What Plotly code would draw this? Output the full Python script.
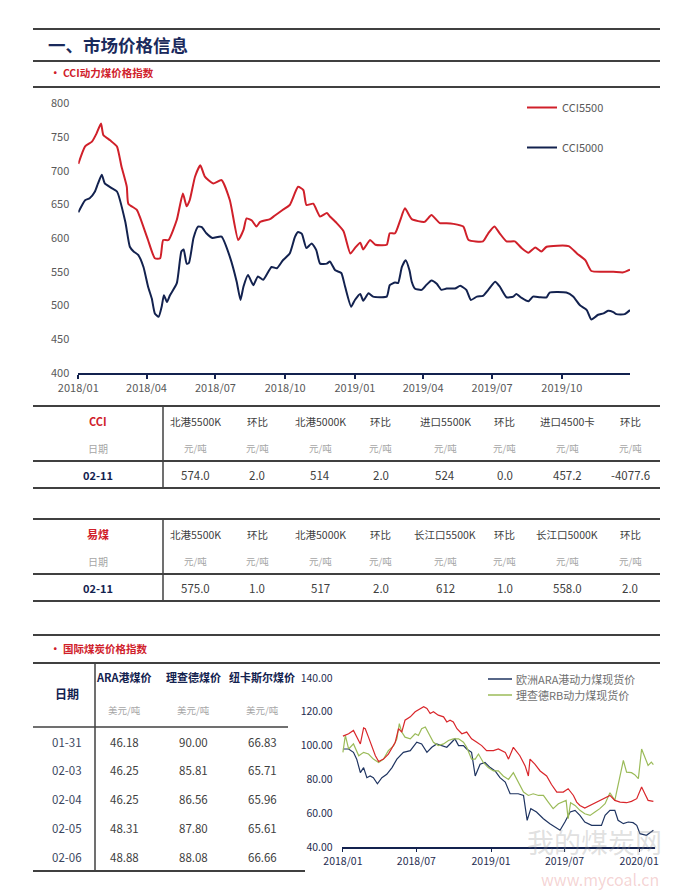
import plotly.graph_objects as go
import pandas as pd

W, H = 693, 894
OFF = 8  # page body margin in the browser
FONT = "Noto Sans CJK SC"

# ---------------- data: CCI index chart ----------------
cci5500_dates = ["2018-01-01","2018-01-10","2018-01-19","2018-01-25","2018-01-31","2018-02-03","2018-02-12","2018-02-21",
    "2018-02-27","2018-03-06","2018-03-08","2018-03-19","2018-03-23","2018-04-03","2018-04-12","2018-04-19","2018-04-23",
    "2018-04-30","2018-05-11","2018-05-19","2018-05-24","2018-05-28","2018-06-04","2018-06-11","2018-06-17","2018-06-28",
    "2018-07-09","2018-07-20","2018-07-31","2018-08-07","2018-08-11","2018-08-18","2018-08-24","2018-08-29","2018-09-11",
    "2018-09-17","2018-09-28","2018-10-07","2018-10-18","2018-10-25","2018-10-29","2018-11-07","2018-11-16","2018-11-25",
    "2018-11-29","2018-12-08","2018-12-17","2018-12-26","2019-01-01","2019-01-08","2019-01-12","2019-01-21","2019-01-28",
    "2019-02-12","2019-02-16","2019-02-23","2019-03-02","2019-03-08","2019-03-17","2019-04-03","2019-04-12","2019-04-23",
    "2019-05-02","2019-05-11","2019-05-24","2019-05-31","2019-06-19","2019-06-26","2019-07-04","2019-07-11","2019-07-20",
    "2019-07-31","2019-08-09","2019-08-18","2019-08-27","2019-09-04","2019-09-11","2019-10-10","2019-10-21","2019-11-01",
    "2019-11-09","2019-11-25","2019-12-08","2019-12-21","2019-12-30"]
cci5500 = [710,736,743,755,770,753,745,736,706,676,651,642,632,597,570,570,597,597,627,666,647,656,691,708,691,681,
    686,656,597,612,629,626,617,624,628,633,642,649,676,671,649,651,632,637,632,622,610,577,585,593,583,597,590,
    590,607,607,627,644,628,624,634,622,622,621,617,597,595,607,617,607,595,595,585,578,586,580,587,588,577,567,
    551,550,550,549,553]

cci5000_dates = ["2018-01-01","2018-01-10","2018-01-16","2018-01-23","2018-01-27","2018-02-01","2018-02-05","2018-02-14",
    "2018-02-21","2018-03-04","2018-03-10","2018-03-15","2018-03-21","2018-03-28","2018-04-03","2018-04-08","2018-04-12",
    "2018-04-17","2018-04-21","2018-04-24","2018-04-28","2018-05-02","2018-05-11","2018-05-17","2018-05-20","2018-05-24",
    "2018-05-27","2018-06-02","2018-06-08","2018-06-13","2018-06-19","2018-06-27","2018-07-09","2018-07-20","2018-07-29",
    "2018-08-03","2018-08-07","2018-08-13","2018-08-20","2018-08-26","2018-09-02","2018-09-13","2018-09-20","2018-09-28",
    "2018-10-07","2018-10-14","2018-10-18","2018-10-23","2018-10-29","2018-11-05","2018-11-11","2018-11-16","2018-11-25",
    "2018-11-29","2018-12-06","2018-12-14","2018-12-19","2018-12-27","2019-01-01","2019-01-08","2019-01-12","2019-01-19",
    "2019-01-25","2019-02-12","2019-02-16","2019-02-23","2019-02-27","2019-03-04","2019-03-09","2019-03-14","2019-03-17",
    "2019-03-21","2019-03-30","2019-04-05","2019-04-12","2019-04-19","2019-04-25","2019-05-02","2019-05-13","2019-05-20",
    "2019-05-28","2019-06-03","2019-06-11","2019-06-19","2019-06-26","2019-07-05","2019-07-11","2019-07-20","2019-07-29",
    "2019-08-02","2019-08-09","2019-08-18","2019-08-24","2019-09-02","2019-09-11","2019-09-15","2019-10-07","2019-10-16",
    "2019-10-25","2019-11-03","2019-11-09","2019-11-18","2019-11-25","2019-12-01","2019-12-08","2019-12-12","2019-12-23",
    "2019-12-30"]
cci5000 = [638,656,659,669,681,694,681,674,669,624,587,580,575,557,528,510,488,483,498,515,505,515,533,580,583,562,
    563,600,617,616,607,600,602,572,535,508,528,545,530,543,538,557,555,567,577,602,609,606,585,592,582,562,562,
    565,552,548,528,498,508,517,507,518,513,513,530,534,533,557,567,552,535,525,523,530,537,532,523,525,525,529,
    523,508,513,514,523,535,528,512,513,517,511,506,513,512,512,519,519,513,500,493,479,486,488,492,490,487,487,
    493]

# ---------------- data: tables ----------------
cci_headers = ["北港5500K", "环比", "北港5000K", "环比", "进口5500K", "环比", "进口4500卡", "环比"]
cci_units = ["元/吨"] * 8
cci_date = "02-11"
cci_values = ["574.0", "2.0", "514", "2.0", "524", "0.0", "457.2", "-4077.6"]

ym_headers = ["北港5500K", "环比", "北港5000K", "环比", "长江口5500K", "环比", "长江口5000K", "环比"]
ym_units = ["元/吨"] * 8
ym_date = "02-11"
ym_values = ["575.0", "1.0", "517", "2.0", "612", "1.0", "558.0", "2.0"]

intl_headers = ["ARA港煤价", "理查德煤价", "纽卡斯尔煤价"]
intl_units = ["美元/吨"] * 3
intl_dates = ["01-31", "02-03", "02-04", "02-05", "02-06"]
ara_price = [46.18, 46.25, 46.25, 48.31, 48.88]
richards_price = [90.00, 85.81, 86.56, 87.80, 88.08]
newcastle_price = [66.83, 65.71, 65.96, 65.61, 66.66]

# ---------------- data: international chart (days since 2018-01-01) ----------------
intl_start = pd.Timestamp("2018-01-01")
ara_days = [0,14,26,34,43,51,59,67,75,85,96,108,121,133,149,166,182,194,207,219,231,244,256,268,276,285,297,305,317,
    326,338,350,363,375,387,400,412,432,445,454,463,477,494,510,527,535,547,560,572,584,596,613,637,646,658,670,678,
    691,703,715,724,732,748,765]
ara_spot = [98,98,96,92,84,87,81,82,81,77.4,81,83,87,92,96,97,102,101,96,99,101,100,99,102,104,100,100,98,96,82,89,90,
    87,85,81,78.4,71.5,71.5,70.5,55.8,62.7,60.7,56.7,53.8,50.8,49.9,54.8,60.7,61.7,58.7,54.8,52.8,52.8,58.7,61.7,61.7,
    55.8,53.8,54.8,54.4,52.8,47.9,46.9,49.9]
rb_days = [0,6,14,26,39,51,63,75,88,100,112,125,133,139,145,153,166,178,186,194,203,211,223,235,248,260,272,285,297,305,
    317,326,334,346,358,371,383,395,408,420,432,445,457,469,482,494,506,518,531,543,550,555,561,572,584,596,609,621,633,
    646,658,670,678,691,699,711,719,728,736,744,752,760,765]
rb_spot = [96,106,98,101,94,96,95,92,90,92,97,100,104,113,108,105,104,107,106,110,111,107,102,100,101,103,104,104,102,99,
    92,92,95,90,87,85,85,82,80,84,78.4,72.5,70.5,71.5,70.5,70.5,66.6,62.7,65.6,66.6,67.6,56.7,66.2,64.6,61.7,59.7,58.7,
    60.7,62.7,65.6,72.1,67.6,76.5,91.2,84.3,84,82.8,80.4,98,93.2,88.3,90.2,88.7]
nc_days = [0,14,26,34,43,51,55,63,71,80,88,100,112,121,129,137,145,153,166,178,186,199,207,215,223,235,248,256,264,272,
    281,293,305,317,330,342,354,371,383,400,408,420,436,449,457,461,473,486,502,514,527,543,555,568,576,584,596,609,625,
    642,658,670,683,699,711,724,736,744,752,765]
nc_spot = [105.6,107,109,105,101,110.5,110,105,100,94,90.6,92,95,99,102,110,108,115,117,120,121,123,122,119,120,118,117,
    114,115,114,110,107,108,104,102,100,97,97,98,96,92,99,94,88,82,92,89,85,82,77,72.5,72.5,74.5,70.5,66.6,64.6,63,64.6,
    66.6,68.6,70.5,67.6,66.6,66.2,67,68.6,75.5,71.5,67.6,67]

RED = "#d0202a"
NAVY = "#13224f"
ARA_C = "#1f3461"
GREEN = "#9bbb59"
NC_C = "#d9262b"
GREY = "#595959"
LIGHT = "#a6a6a6"
DARK = "#404040"


def px(x):
    return (x - OFF) / W


def py(y):
    return 1 - (y - OFF) / H


def to_dates(days):
    return intl_start + pd.to_timedelta(days, unit="D")


fig = go.Figure()

# top chart
fig.add_trace(go.Scatter(x=cci5500_dates, y=cci5500, mode="lines", name="CCI5500", legendgroup="a",
                         line=dict(color=RED, width=2, shape="spline", smoothing=0.5), xaxis="x", yaxis="y"))
fig.add_trace(go.Scatter(x=cci5000_dates, y=cci5000, mode="lines", name="CCI5000", legendgroup="b",
                         line=dict(color=NAVY, width=2, shape="spline", smoothing=0.5), xaxis="x", yaxis="y"))

# bottom chart
intl_series = [("欧洲ARA港动力煤现货价", ara_days, ara_spot, ARA_C, True),
               ("理查德RB动力煤现货价", rb_days, rb_spot, GREEN, True),
               ("纽卡斯尔动力煤现货价", nc_days, nc_spot, NC_C, False)]
for name, d, v, c, _ in intl_series:
    fig.add_trace(go.Scatter(x=to_dates(d), y=v, mode="lines", name=name, showlegend=False,
                             line=dict(color=c, width=1.2), xaxis="x2", yaxis="y2"))


def text(x, y, s, size=11, color=DARK, bold=False, xanchor="center"):
    fig.add_annotation(x=px(x), y=py(y), xref="paper", yref="paper",
                       text=f"<b>{s}</b>" if bold else s, showarrow=False,
                       font=dict(size=size, color=color, family=FONT),
                       xanchor=xanchor, yanchor="middle")


def hline(y, x0, x1, width=2, color=DARK):
    fig.add_shape(type="line", xref="paper", yref="paper", x0=px(x0), x1=px(x1), y0=py(y), y1=py(y),
                  line=dict(color=color, width=width))


def vline(x, y0, y1, width=1.5, color=DARK):
    fig.add_shape(type="line", xref="paper", yref="paper", x0=px(x), x1=px(x), y0=py(y0), y1=py(y1),
                  line=dict(color=color, width=width))


# legend of the international chart (only the two listed series)
leg_y = [679, 695]
for ly, (name, _, _, c, shown) in zip(leg_y, [s for s in intl_series if s[4]]):
    hline(ly, 488, 512, width=1.5, color=c)
    text(514, ly, name, size=11, color="#6f6f6f", xanchor="left")

# page headings
hline(29, 33, 660)
text(46, 45, "一、市场价格信息", size=17.5, color="#1a2a5c", bold=True, xanchor="left")
hline(61, 33, 660)
text(48, 73, "• CCI动力煤价格指数", size=10.5, color=RED, bold=True, xanchor="left")
hline(87, 33, 660)

# price tables
col_x = [195, 257, 320, 381, 445, 505, 567, 630]


def price_table(top, name, headers, units, date, values):
    hline(top, 33, 660)
    vline(163, top, top + 82)
    text(98, top + 15, name, size=11, color=RED, bold=True)
    text(98, top + 42, "日期", size=10, color=LIGHT)
    for cx, h, u in zip(col_x, headers, units):
        text(cx, top + 15, h, size=10.5, color=DARK)
        text(cx, top + 42, u, size=9.5, color=LIGHT)
    hline(top + 55, 33, 660)
    text(98, top + 69, date, size=11, color=NAVY, bold=True)
    for cx, v in zip(col_x, values):
        text(cx, top + 69, v, size=11.5, color=DARK)
    hline(top + 82, 33, 660)


price_table(406, "CCI", cci_headers, cci_units, cci_date, cci_values)
price_table(519, "易煤", ym_headers, ym_units, ym_date, ym_values)

# international section
hline(635, 33, 660)
text(48, 648, "• 国际煤炭价格指数", size=10.5, color=RED, bold=True, xanchor="left")
hline(663, 33, 660)
vline(95, 663, 871)
text(67, 693, "日期", size=12, color=NAVY, bold=True)
icol = [124, 193, 262]
for cx, h, u in zip(icol, intl_headers, intl_units):
    text(cx, 677, h, size=11, color=NAVY, bold=True)
    text(cx, 710, u, size=9.5, color=LIGHT)
hline(727, 33, 288, width=1.5)
row_y = [742, 770, 799, 828, 857]
for ry, d, a, r, n in zip(row_y, intl_dates, ara_price, richards_price, newcastle_price):
    text(67, ry, d, size=11.5, color="#3a4660")
    text(icol[0], ry, f"{a:.2f}", size=11.5, color=DARK)
    text(icol[1], ry, f"{r:.2f}", size=11.5, color=DARK)
    text(icol[2], ry, f"{n:.2f}", size=11.5, color=DARK)
hline(871, 33, 305)

# watermark
text(594, 841, "我的煤炭网", size=27, color="rgba(150,150,150,0.3)")
text(600, 879, "www.mycoal.cn", size=16, color="rgba(220,110,110,0.3)")

fig.update_layout(
    width=W, height=H,
    margin=dict(l=0, r=0, t=0, b=0, pad=0, autoexpand=False),
    paper_bgcolor="white", plot_bgcolor="white", showlegend=True,
    font=dict(family=FONT, size=11, color=GREY),
    xaxis=dict(domain=[px(78.3), px(630)], type="date", range=["2018-01-01", "2019-12-30"],
               tick0="2018-01-01", dtick="M3", tickformat="%Y/%m", automargin=False,
               showgrid=False, zeroline=False, showline=True, linecolor=NAVY, linewidth=2,
               ticks="outside", ticklen=4, tickcolor=NAVY, tickwidth=1.5,
               tickfont=dict(size=11, color=GREY), anchor="y"),
    yaxis=dict(domain=[py(372.7), py(103.3)], range=[400, 800], dtick=50, automargin=False,
               showgrid=False, zeroline=False, showline=False,
               tickfont=dict(size=11, color=GREY), ticklabelstandoff=8, anchor="x"),
    xaxis2=dict(domain=[px(341.7), px(655)], type="date",
                range=[intl_start - pd.Timedelta(days=3), intl_start + pd.Timedelta(days=769)],
                tick0="2018-01-01", dtick="M6", tickformat="%Y/%m", automargin=False,
                showgrid=False, zeroline=False, showline=True, linecolor=NAVY, linewidth=2,
                ticks="outside", ticklen=3, tickcolor=NAVY,
                tickfont=dict(size=10.5, color="#1f2d50"), anchor="y2"),
    yaxis2=dict(domain=[py(847), py(678)], range=[40, 140], dtick=20, tickformat=".2f", automargin=False,
                showgrid=False, zeroline=False, showline=False,
                tickfont=dict(size=10.5, color="#1f2d50"), ticklabelstandoff=8, anchor="x2"),
    legend=dict(x=px(522), y=py(93), xanchor="left", yanchor="top", tracegroupgap=21,
                font=dict(size=11, color=GREY), bgcolor="rgba(0,0,0,0)"),
)

fig.write_html("out.html")
